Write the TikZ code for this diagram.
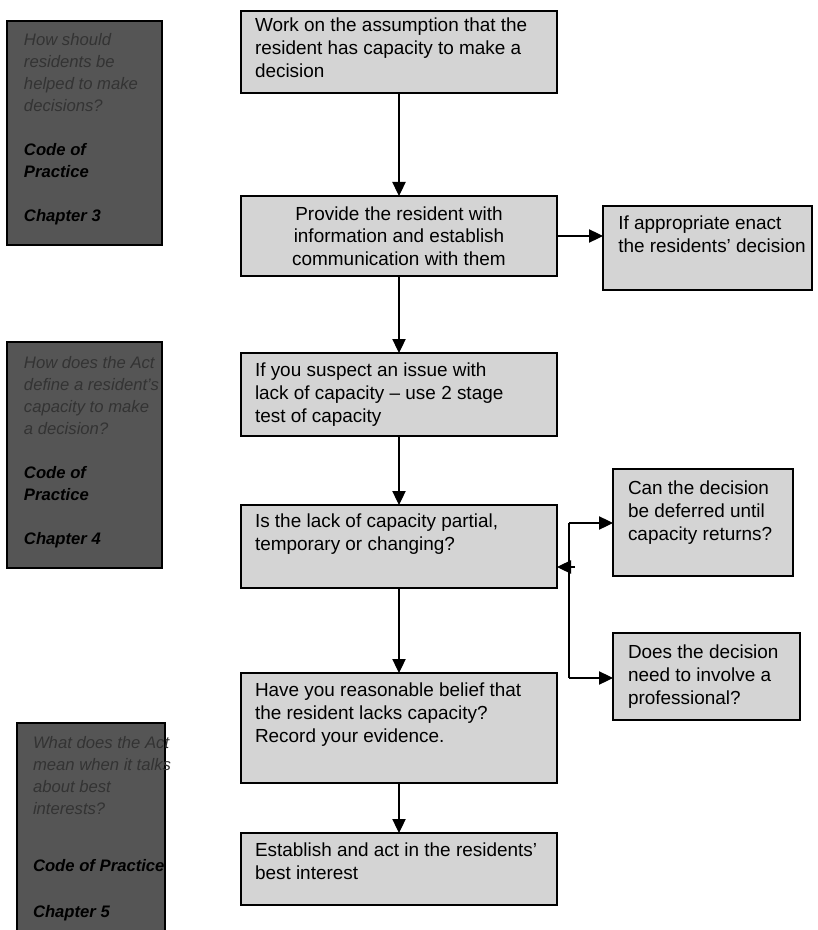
\documentclass[tikz,border=0pt]{standalone}
\usepackage{fontspec}
\setmainfont{Liberation Sans}
\usetikzlibrary{arrows.meta}
\definecolor{lightfill}{HTML}{D4D4D4}
\definecolor{darkfill}{HTML}{555555}
\definecolor{qcol}{HTML}{333333}
\tikzset{
  lightbox/.style={draw=black, line width=0.9pt, fill=lightfill, inner xsep=0pt, outer sep=0pt, anchor=north west},
  darkbox/.style={draw=black, line width=0.9pt, fill=darkfill, inner xsep=0pt, outer sep=0pt, anchor=north west},
  arr/.style={draw=black, line width=0.8pt, -{Triangle[length=10.5pt,width=10pt]}},
  conn/.style={draw=black, line width=0.8pt},
}
% name, x1, y1, x2, y2, left pad (pt), top pad (pt), vertical pos, text
\newcommand{\mybox}[9]{%
  \pgfmathsetmacro\myBW{(#4-#2)*0.75}%
  \pgfmathsetmacro\myBH{(#5-#3)*0.75-2*#7}%
  \node[lightbox, inner ysep=#7pt] (#1) at (#2,#3)
    {\parbox[c][\myBH pt][#8]{\myBW pt}{\fontsize{14.2}{17}\selectfont\leftskip=#6pt\rightskip=0pt plus 1fil\parindent=0pt #9}};%
}
% name, x1, y1, x2, y2, left pad (pt), top pad (pt), text
\newcommand{\mydark}[8]{%
  \pgfmathsetmacro\myBW{(#4-#2)*0.75}%
  \pgfmathsetmacro\myBH{(#5-#3)*0.75-2*#7}%
  \node[darkbox, inner ysep=#7pt] (#1) at (#2,#3)
    {\parbox[c][\myBH pt][t]{\myBW pt}{\fontsize{12.5}{16.5}\selectfont\leftskip=#6pt\rightskip=0pt plus 1fil\parindent=0pt #8}};%
}
\newcommand{\qline}[1]{\mbox{\color{qcol}\itshape #1}}
\newcommand{\bline}[1]{\mbox{\bfseries\itshape #1}}
\begin{document}
\begin{tikzpicture}[x=0.75pt,y=-0.75pt]
\useasboundingbox (0,0) rectangle (817,930);
\fill[white] (0,0) rectangle (817,930);

% left dark boxes
\mydark{d1}{7}{21}{162}{245}{12.75}{9}{\qline{How should}\\\qline{residents be}\\\qline{helped to make}\\\qline{decisions?}\\[16.5pt]\bline{Code of}\\\bline{Practice}\\[16.5pt]\bline{Chapter 3}}
\mydark{d2}{7}{342}{162}{568}{12.75}{10.5}{\qline{How does the Act}\\\qline{define a resident's}\\\qline{capacity to make}\\\qline{a decision?}\\[16.5pt]\bline{Code of}\\\bline{Practice}\\[16.5pt]\bline{Chapter 4}}
\mydark{d3}{17}{723}{165}{940}{12}{10}{\qline{What does the Act}\\\qline{mean when it talks}\\\qline{about best}\\\qline{interests?}\\[26pt]\bline{Code of Practice}\\[18pt]\bline{Chapter 5}}

% main column
\mybox{b1}{241}{11}{557}{93}{10.5}{5.25}{t}{Work on the assumption that the\\resident has capacity to make a\\decision}
\mybox{b2}{241}{196}{557}{276}{0}{3}{c}{\centering Provide the resident with\\information and establish\\communication with them}
\mybox{b3}{603}{206}{812}{290}{11.5}{7.5}{t}{If appropriate enact\\the residents' decision}
\mybox{b4}{241}{353}{557}{436}{10.5}{7.5}{t}{If you suspect an issue with\\lack of capacity -- use 2 stage\\test of capacity}
\mybox{b5}{241}{505}{557}{588}{10.5}{6.75}{t}{Is the lack of capacity partial,\\temporary or changing?}
\mybox{b6}{613}{469}{793}{576}{11.25}{9}{t}{Can the decision\\be deferred until\\capacity returns?}
\mybox{b7}{613}{633}{800}{720}{11.25}{9}{t}{Does the decision\\need to involve a\\professional?}
\mybox{b8}{241}{673}{557}{783}{10.5}{7.5}{t}{Have you reasonable belief that\\the resident lacks capacity?\\Record your evidence.}
\mybox{b9}{241}{833}{557}{905}{10.5}{7.5}{t}{Establish and act in the residents'\\best interest}

% connectors
\draw[arr] (b1.south) -- (b2.north);
\draw[arr] (b2.east) -- (b2.east -| b3.west);
\draw[arr] (b2.south) -- (b4.north);
\draw[arr] (b4.south) -- (b5.north);
\draw[arr] (b5.south) -- (b8.north);
\draw[arr] (b8.south) -- (b9.north);

\coordinate (j1) at (569,523);
\coordinate (j2) at (569,678);
\coordinate (jm) at (575,567);
\draw[conn] (j1) -- (j2);
\draw[arr] (j1) -- (j1 -| b6.west);
\draw[arr] (j2) -- (j2 -| b7.west);
\draw[arr] (jm) -- (jm -| b5.east);
\end{tikzpicture}
\end{document}
